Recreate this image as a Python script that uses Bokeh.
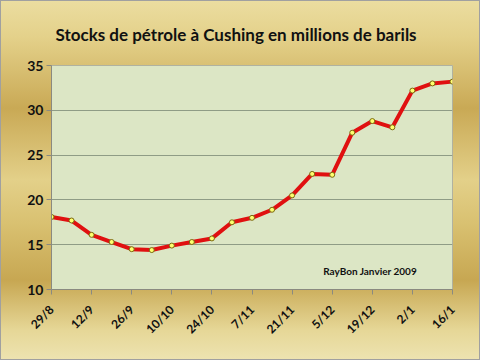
import math
from bokeh.plotting import figure
from bokeh.models import Range1d, FixedTicker, Label, Title
from bokeh.embed import file_html
from bokeh.resources import INLINE

dates = ["29/8", "5/9", "12/9", "19/9", "26/9", "3/10", "10/10", "17/10", "24/10",
         "31/10", "7/11", "14/11", "21/11", "28/11", "5/12", "12/12", "19/12",
         "26/12", "2/1", "9/1", "16/1"]
stocks = [18.1, 17.7, 16.1, 15.3, 14.5, 14.4, 14.9, 15.3, 15.7, 17.5, 18.0,
          18.9, 20.5, 22.9, 22.8, 27.5, 28.8, 28.1, 32.2, 33.0, 33.2]
y_ticks = [10, 15, 20, 25, 30, 35]
title_text = "Stocks de pétrole à Cushing en millions de barils"
credit_text = "RayBon Janvier 2009"

xs = list(range(len(dates)))
FONT = "Lato"

p = figure(width=480, height=360, output_backend="svg", toolbar_location=None,
           x_range=Range1d(0, len(dates) - 1), y_range=Range1d(y_ticks[0], y_ticks[-1]),
           min_border_left=50, min_border_right=29, min_border_top=64, min_border_bottom=72)

p.border_fill_color = None
p.styles = {"background": "linear-gradient(to bottom, #ebdda0 0%, #e4d18a 10%, #c9a955 30%, #e3d089 50%, #d9c171 62%, #c7a752 78%, #e6d797 92%, #ede3b0 100%)",
            "border": "1px solid #a0a0a0", "box-sizing": "border-box"}
p.background_fill_color = "#dce6c5"
p.outline_line_color = "#b0b2a0"

p.title = Title(text=title_text, align="left", text_font=FONT, text_font_size="17px",
                text_font_style="bold", text_color="#111111", standoff=41, offset=4)

p.line(xs, stocks, line_color="#e01010", line_width=4)
p.scatter(xs, stocks, size=5, fill_color="#ffff70", line_color="#7a6a10", line_width=1)

p.xaxis.ticker = FixedTicker(ticks=xs[::2])
p.xaxis.major_label_overrides = {i: dates[i] for i in xs}
p.xaxis.major_label_orientation = math.pi / 4
p.yaxis.ticker = FixedTicker(ticks=y_ticks)

for ax in (p.xaxis, p.yaxis):
    ax.axis_line_color = "#8a8a80"
    ax.major_tick_line_color = "#8a8a80"
    ax.major_tick_out = 5
    ax.major_tick_in = 0
    ax.minor_tick_line_color = None
    ax.major_label_text_font = FONT
    ax.major_label_text_font_style = "bold"
    ax.major_label_text_color = "#111111"
p.yaxis.major_label_text_font_size = "14px"
p.xaxis.major_label_text_font_size = "12px"
p.yaxis.major_label_standoff = 3
p.xaxis.major_label_standoff = 13

p.xgrid.grid_line_color = None
p.ygrid.grid_line_color = "#8f9c86"
p.ygrid.grid_line_width = 1

p.add_layout(Label(x=13.55, y=12.05, text=credit_text, text_font=FONT, text_font_size="10px",
                   text_font_style="bold", text_color="#111111", text_baseline="alphabetic"))

open("out.html", "w").write(file_html(p, INLINE))
